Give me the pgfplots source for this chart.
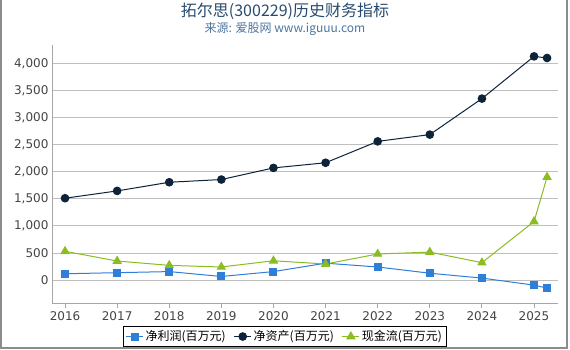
\documentclass[border=0pt]{standalone}
\usepackage{pgfplots}
\pgfplotsset{compat=1.18}
\usepackage{fontspec}
\setmainfont{DejaVu Sans}
\newfontfamily\cjk{Noto Sans CJK SC}
\definecolor{cA}{HTML}{2F7ED8}
\definecolor{cB}{HTML}{0D233A}
\definecolor{cC}{HTML}{8BBC21}
\definecolor{ttl}{HTML}{274B6D}
\definecolor{sub}{HTML}{4D759E}
\definecolor{lbl}{HTML}{444444}
\begin{document}
\begin{tikzpicture}
\useasboundingbox (0pt,0pt) rectangle (570pt,350pt);
\draw[gray!90, line width=1.6pt] (0.8pt,350pt) -- (0.8pt,1.8pt) -- (567pt,1.8pt) -- (567pt,350pt);
\node at (285pt,339pt) {\cjk\fontsize{16}{18}\selectfont\color{ttl}拓尔思(300229)历史财务指标};
\node at (285pt,321pt) {\cjk\fontsize{12}{14}\selectfont\color{sub}来源: 爱股网 www.iguuu.com};
\begin{axis}[
  at={(52pt,47pt)}, anchor=south west,
  width=506pt, height=258pt, scale only axis,
  xmin=2015.75, xmax=2025.46, ymin=-425, ymax=4340,
  xtick={2016,2017,...,2025},
  ytick={0,500,...,4000},
  xticklabel style={/pgf/number format/1000 sep={}},
  yticklabel style={/pgf/number format/1000 sep={,}},
  /pgf/number format/assume math mode=true,
  tick label style={font=\fontsize{12}{14}\selectfont, text=lbl},
  ymajorgrids, grid style={gray!50, line width=0.8pt},
  axis x line*=bottom, axis y line*=left,
  x axis line style={gray!70, line width=0.8pt, -},
  y axis line style={gray!70, line width=0.8pt, -},
  xtick style={gray!70, line width=0.8pt},
  ytick style={draw=none},
  major tick length=5pt,
  xtick align=outside,
  legend style={at={(0.46,-0.13)}, anchor=center, draw=black, line width=0.8pt,
    font=\cjk\fontsize{12}{14}\selectfont, legend columns=3,
    /tikz/every even column/.append style={column sep=6pt}, inner sep=2pt},
  clip=false,
]
\addplot[cA, line width=1pt, mark=square*, mark size=3.5pt, mark options={solid, fill=cA}] coordinates {
(2016,115) (2017,135) (2018,155) (2019,65) (2020,155) (2021,310) (2022,240) (2023,125) (2024,35) (2025,-95) (2025.25,-150)};
\addlegendentry{净利润(百万元)}
\addplot[cB, line width=1pt, mark=*, mark size=3.8pt, mark options={solid, fill=cB}] coordinates {
(2016,1510) (2017,1645) (2018,1805) (2019,1855) (2020,2070) (2021,2165) (2022,2560) (2023,2685) (2024,3350) (2025,4130) (2025.25,4100)};
\addlegendentry{净资产(百万元)}
\addplot[cC, line width=1pt, mark=triangle*, mark size=4.5pt, mark options={solid, fill=cC}] coordinates {
(2016,530) (2017,350) (2018,270) (2019,240) (2020,355) (2021,295) (2022,480) (2023,515) (2024,320) (2025,1080) (2025.25,1900)};
\addlegendentry{现金流(百万元)}
\end{axis}
\end{tikzpicture}
\end{document}
